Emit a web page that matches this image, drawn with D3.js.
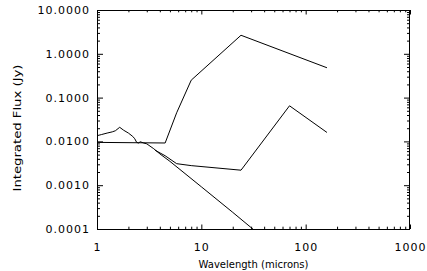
<!DOCTYPE html>
<html>
<head>
<meta charset="utf-8">
<script src="https://cdn.jsdelivr.net/npm/d3@7"></script>
<style>
  body { margin: 0; background: #fff; }
  text { font-family: "DejaVu Sans", sans-serif; fill: #000; }
</style>
</head>
<body>
<div id="plot"></div>
<script>
// photosphere (jagged near-IR spectrum then Rayleigh-Jeans tail)
var photoWave = [1.0, 1.1, 1.25, 1.4, 1.5, 1.65, 1.8, 2.0, 2.2, 2.3, 2.4, 2.5, 2.6, 2.8, 3.0, 3.5, 4.0, 5.0, 10, 20, 40];
var photoFlux = [0.0135, 0.0143, 0.0155, 0.0165, 0.0175, 0.021, 0.018, 0.0155, 0.013, 0.0115, 0.0095, 0.0092, 0.0098, 0.0092, 0.0088, 0.0068, 0.0052, 0.0035, 0.00092, 0.00024, 0.000061];

// source with strong excess
var excessWave = [1.0, 4.5, 5.8, 8.0, 24, 160];
var excessFlux = [0.0095, 0.0092, 0.045, 0.25, 2.65, 0.48];

// source with weak excess
var weakWave = [3.6, 4.5, 5.8, 8.0, 24, 70, 160];
var weakFlux = [0.0063, 0.0047, 0.0031, 0.0028, 0.0022, 0.065, 0.016];

var xMajor = [1, 10, 100, 1000];
var yMajor = [0.0001, 0.001, 0.01, 0.1, 1, 10];

var width = 427, height = 271;
var plotLeft = 97, plotRight = 410, plotTop = 10, plotBottom = 229;

var svg = d3.select("#plot").append("svg")
    .attr("width", width)
    .attr("height", height);

var xScale = d3.scaleLog().domain([1, 1000]).range([plotLeft, plotRight]);
var yScale = d3.scaleLog().domain([0.0001, 10]).range([plotBottom, plotTop]);

var xMinor = [];
xMajor.slice(0, -1).forEach(function (d) {
    for (var i = 2; i <= 9; i++) xMinor.push(d * i);
});
var yMinor = [];
yMajor.slice(0, -1).forEach(function (d) {
    for (var i = 2; i <= 9; i++) yMinor.push(+(d * i).toPrecision(3));
});

svg.append("clipPath").attr("id", "clip")
    .append("rect")
    .attr("x", plotLeft).attr("y", plotTop)
    .attr("width", plotRight - plotLeft).attr("height", plotBottom - plotTop);

var line = d3.line()
    .x(function (d) { return xScale(d[0]); })
    .y(function (d) { return yScale(d[1]); });

var series = [
    d3.zip(photoWave, photoFlux),
    d3.zip(excessWave, excessFlux),
    d3.zip(weakWave, weakFlux)
];

svg.append("g").attr("clip-path", "url(#clip)")
    .selectAll("path")
    .data(series).enter().append("path")
    .attr("d", line)
    .attr("fill", "none")
    .attr("stroke", "#000")
    .attr("stroke-width", 1);

// axes, ticks pointing inside on all four sides
function noLabel() { return ""; }

function drawAxis(axis, transform, cls) {
    var g = svg.append("g")
        .attr("class", cls)
        .attr("transform", transform)
        .call(axis);
    g.select(".domain").remove();
    g.selectAll("line").attr("stroke", "#000");
    return g;
}

drawAxis(d3.axisBottom(xScale).tickValues(xMajor).tickSize(-4.5).tickPadding(14)
    .tickFormat(d3.format("d")), "translate(0," + plotBottom + ")", "xAxis");
drawAxis(d3.axisBottom(xScale).tickValues(xMinor).tickSize(-2.3).tickFormat(noLabel),
    "translate(0," + plotBottom + ")", "xMinor");
drawAxis(d3.axisTop(xScale).tickValues(xMajor).tickSize(-4.5).tickFormat(noLabel),
    "translate(0," + plotTop + ")", "xTop");
drawAxis(d3.axisTop(xScale).tickValues(xMinor).tickSize(-2.3).tickFormat(noLabel),
    "translate(0," + plotTop + ")", "xTopMinor");

drawAxis(d3.axisLeft(yScale).tickValues(yMajor).tickSize(-6).tickPadding(7)
    .tickFormat(d3.format(".4f")), "translate(" + plotLeft + ",0)", "yAxis");
drawAxis(d3.axisLeft(yScale).tickValues(yMinor).tickSize(-3).tickFormat(noLabel),
    "translate(" + plotLeft + ",0)", "yMinor");
drawAxis(d3.axisRight(yScale).tickValues(yMajor).tickSize(-6).tickFormat(noLabel),
    "translate(" + plotRight + ",0)", "yRight");
drawAxis(d3.axisRight(yScale).tickValues(yMinor).tickSize(-3).tickFormat(noLabel),
    "translate(" + plotRight + ",0)", "yRightMinor");

svg.selectAll(".xAxis text, .yAxis text")
    .style("font-size", "11px")
    .style("letter-spacing", "1px")
    .style("font-family", "DejaVu Sans, sans-serif");

// frame
svg.append("rect")
    .attr("x", plotLeft + 0.5).attr("y", plotTop + 0.5)
    .attr("width", plotRight - plotLeft - 1).attr("height", plotBottom - plotTop)
    .attr("fill", "none")
    .attr("stroke", "#000")
    .attr("stroke-width", 1);

svg.append("text")
    .attr("x", (plotLeft + plotRight) / 2)
    .attr("y", 268)
    .attr("text-anchor", "middle")
    .attr("font-size", 11)
    .attr("textLength", 110)
    .attr("lengthAdjust", "spacingAndGlyphs")
    .text("Wavelength (microns)");

svg.append("text")
    .attr("transform", "translate(21,128) rotate(-90)")
    .attr("text-anchor", "middle")
    .attr("font-size", 11)
    .attr("textLength", 127)
    .attr("lengthAdjust", "spacingAndGlyphs")
    .text("Integrated Flux (Jy)");
</script>
</body>
</html>
